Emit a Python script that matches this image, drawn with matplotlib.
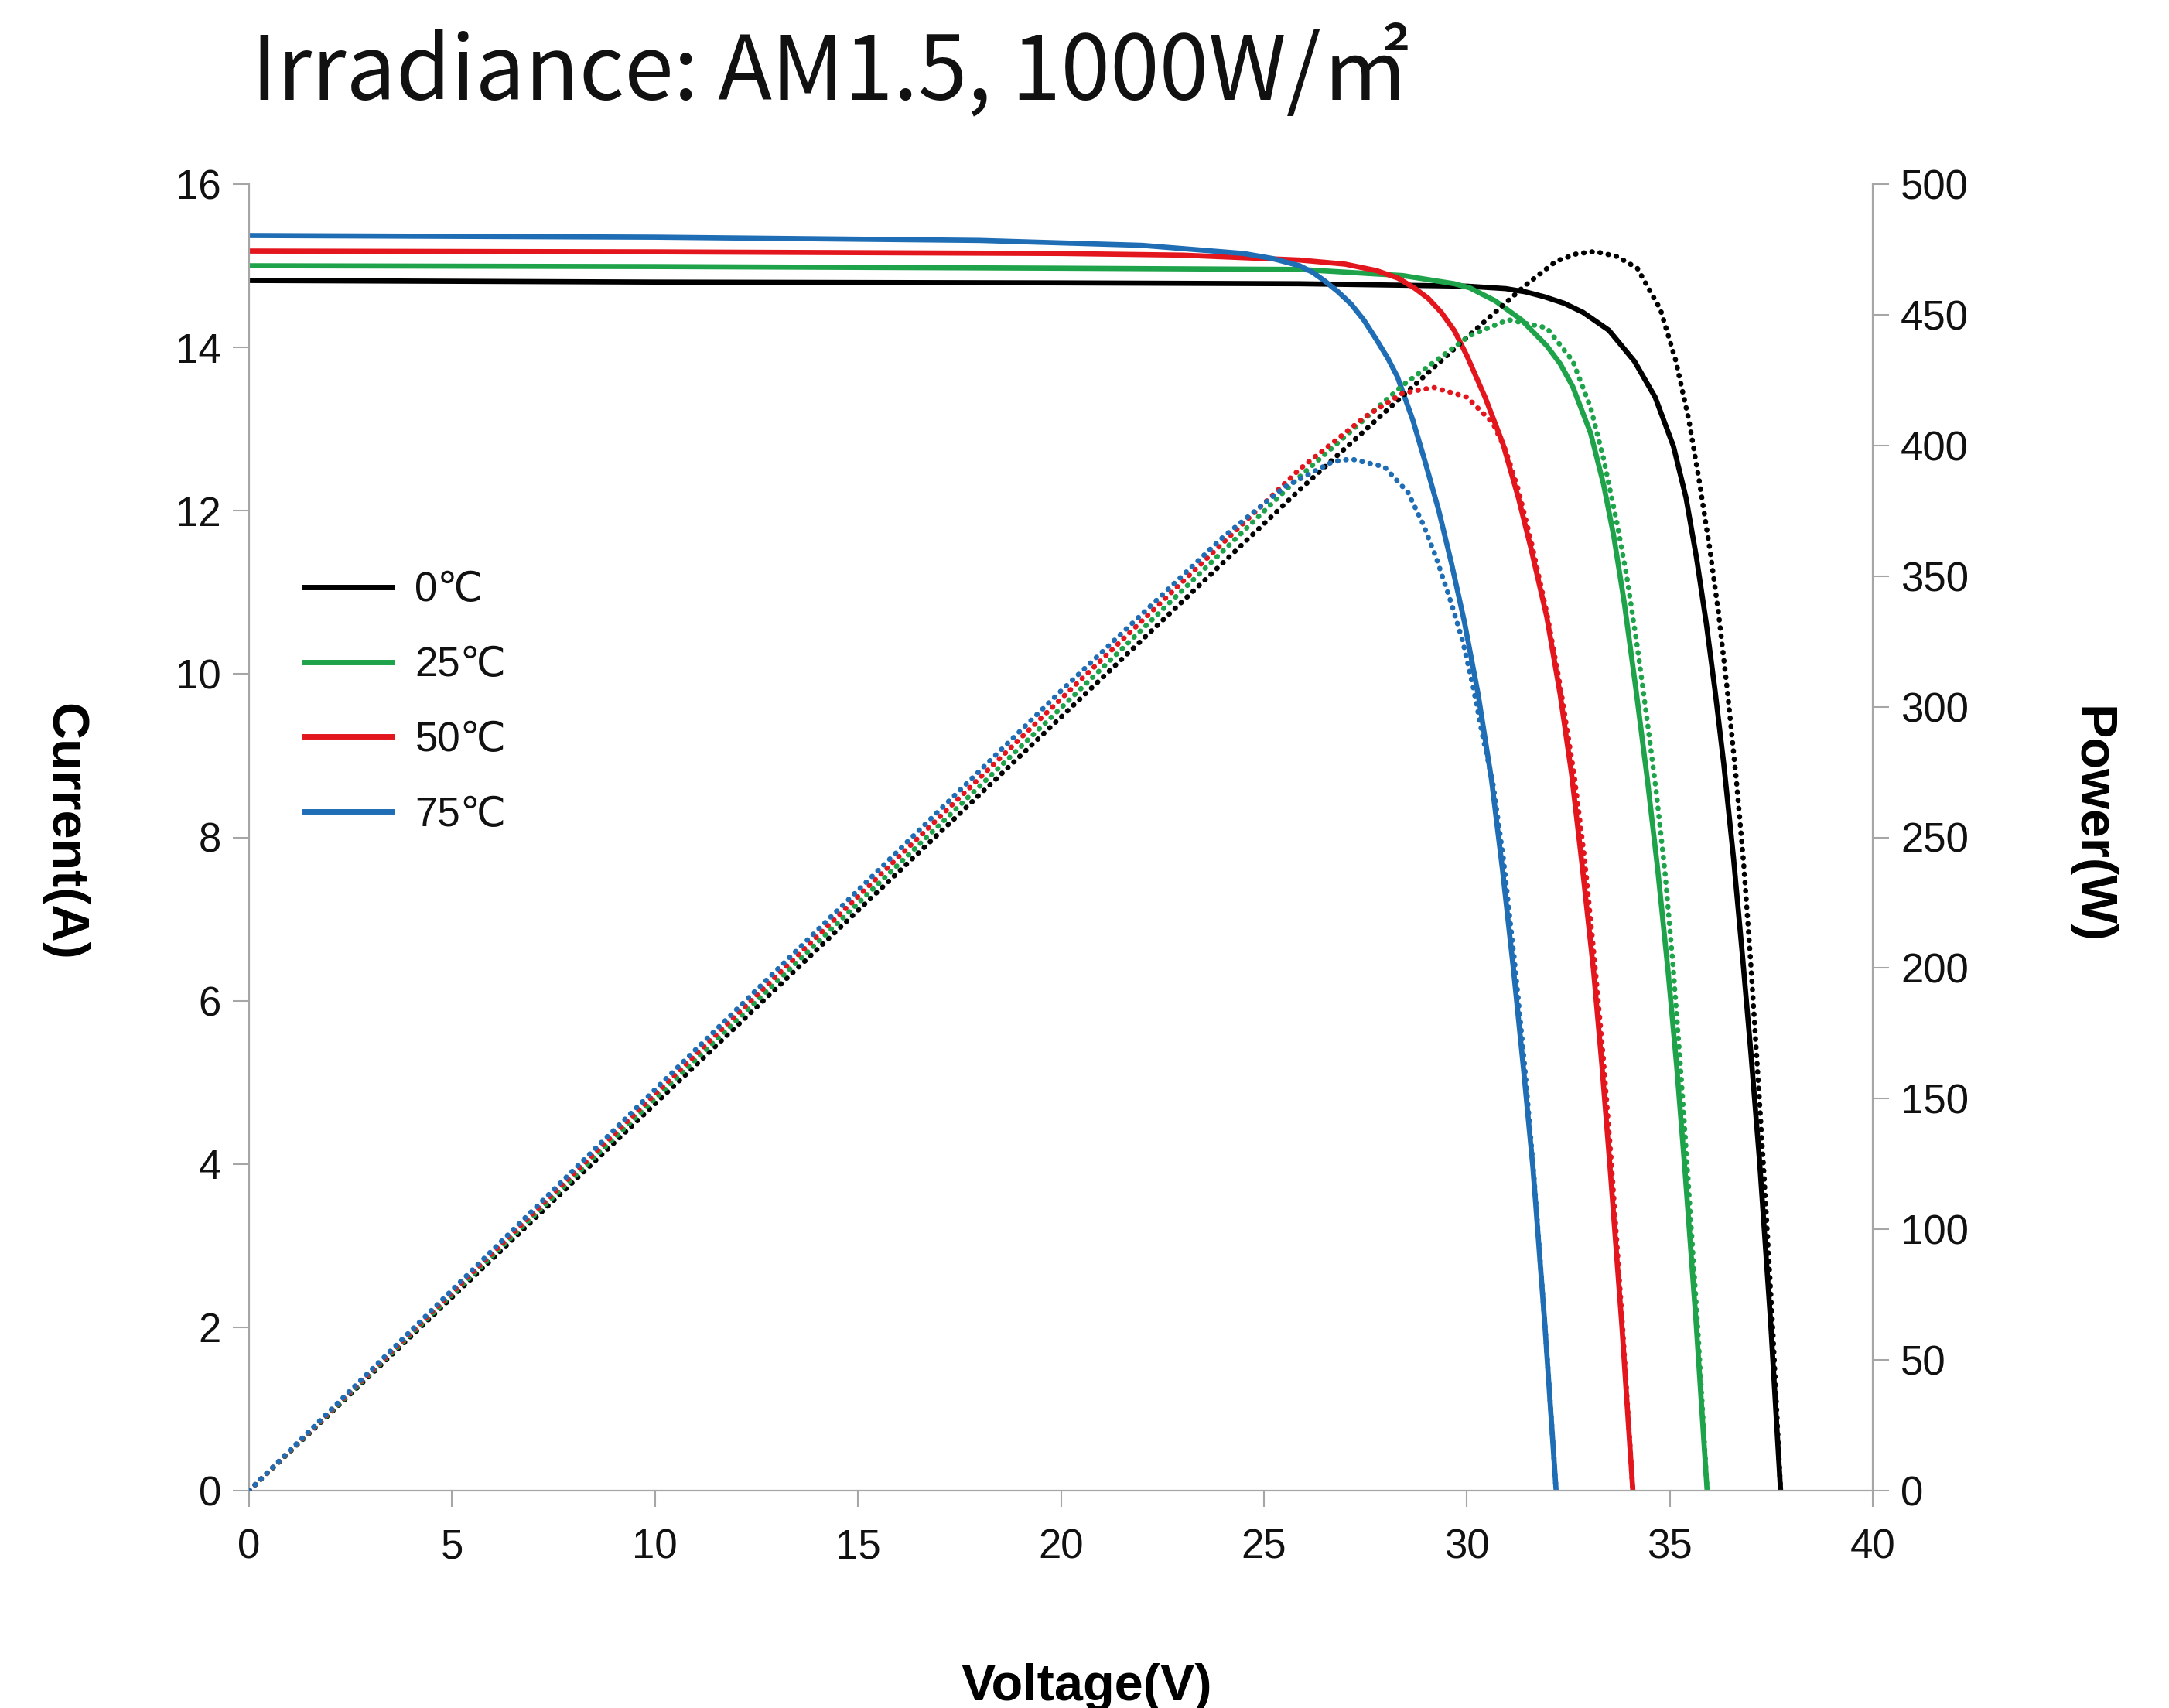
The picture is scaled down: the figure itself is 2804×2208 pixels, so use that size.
import matplotlib
matplotlib.use("Agg")
import matplotlib.pyplot as plt
from matplotlib.lines import Line2D

# ---------------- data ----------------
temps = ["0℃", "25℃", "50℃", "75℃"]
colors = ["#000000", "#1fa34a", "#e3161e", "#1f6db4"]

# I-V curves (Voltage V, Current A)
v_iv_0 = [0, 10, 20, 25.88, 30.0, 30.96, 31.45, 31.91, 32.4, 32.86, 33.5, 34.13, 34.64, 35.09, 35.4, 35.66, 35.9, 36.12, 36.33, 36.57, 36.8, 37.0, 37.21, 37.48, 37.73]
i_iv_0 = [14.82, 14.80, 14.79, 14.78, 14.75, 14.72, 14.68, 14.62, 14.54, 14.43, 14.21, 13.83, 13.39, 12.79, 12.16, 11.42, 10.62, 9.78, 8.9, 7.75, 6.5, 5.35, 4.05, 2.1, 0]

v_iv_25 = [0, 10, 20, 25.88, 28.42, 29.69, 30.07, 30.7, 31.34, 31.97, 32.3, 32.61, 33.05, 33.37, 33.62, 33.88, 34.17, 34.45, 34.7, 34.96, 35.17, 35.37, 35.65, 35.92]
i_iv_25 = [15.0, 14.99, 14.97, 14.955, 14.88, 14.78, 14.73, 14.57, 14.34, 14.02, 13.8, 13.52, 12.95, 12.32, 11.69, 10.87, 9.8, 8.7, 7.62, 6.35, 5.2, 3.95, 2.05, 0]

v_iv_50 = [0, 10, 20, 23, 25.88, 27.0, 27.78, 28.3, 28.73, 29.05, 29.37, 29.7, 30.0, 30.45, 30.89, 31.27, 31.59, 31.97, 32.3, 32.58, 32.85, 33.12, 33.33, 33.53, 33.82, 34.09]
i_iv_50 = [15.18, 15.17, 15.15, 15.13, 15.07, 15.02, 14.94, 14.85, 14.72, 14.6, 14.43, 14.2, 13.9, 13.39, 12.82, 12.16, 11.52, 10.7, 9.75, 8.78, 7.62, 6.38, 5.2, 3.95, 2.02, 0]

v_iv_75 = [0, 10, 18, 22, 24.5, 25.2, 25.88, 26.2, 26.51, 26.83, 27.15, 27.47, 27.78, 28.05, 28.29, 28.67, 28.99, 29.31, 29.62, 29.94, 30.28, 30.61, 30.88, 31.15, 31.4, 31.63, 31.92, 32.2]
i_iv_75 = [15.37, 15.35, 15.31, 15.25, 15.15, 15.09, 15.0, 14.92, 14.81, 14.68, 14.53, 14.33, 14.09, 13.87, 13.64, 13.11, 12.57, 12.0, 11.36, 10.64, 9.75, 8.7, 7.6, 6.38, 5.15, 3.95, 2.05, 0]

# P-V curves (Voltage V, Power W)
v_pv_0 = [0, 10, 20, 25.88, 30.07, 31.46, 32.2, 32.7, 33.15, 33.7, 34.2, 34.77, 35.15, 35.47, 35.72, 35.98, 36.2, 36.42, 36.64, 36.82, 36.99, 37.15, 37.31, 37.53, 37.73]
p_pv_0 = [0, 148, 296, 383, 442.3, 461.5, 470.5, 473.3, 474.2, 472.3, 467.8, 452, 432.3, 409.7, 387, 361, 336, 306, 272, 240, 203, 164, 124, 64, 0]

v_pv_25 = [0, 10, 20, 25.88, 28.42, 30.07, 31.02, 31.97, 32.61, 33.05, 33.37, 33.69, 33.94, 34.2, 34.45, 34.67, 34.88, 35.08, 35.26, 35.43, 35.69, 35.92]
p_pv_25 = [0, 150, 299.5, 388, 423, 442, 448.1, 445, 432.3, 414.5, 394.8, 371, 350, 323, 294, 267, 237, 201, 163, 124, 62, 0]

v_pv_50 = [0, 10, 20, 25.88, 27.5, 28.42, 29.18, 30.0, 30.64, 30.96, 31.27, 31.59, 31.97, 32.3, 32.64, 32.9, 33.14, 33.36, 33.56, 33.84, 34.09]
p_pv_50 = [0, 151.7, 303, 390.9, 411, 420, 422.2, 418.5, 408.6, 398, 383, 363, 336, 308, 274.4, 242, 204, 166, 126, 62, 0]

v_pv_75 = [0, 10, 20, 24.0, 25.5, 26.7, 27.15, 27.97, 28.55, 28.92, 29.24, 29.62, 29.9, 30.15, 30.4, 30.64, 30.9, 31.2, 31.44, 31.66, 31.95, 32.2]
p_pv_75 = [0, 153.5, 306, 365, 384, 393.8, 394.8, 391.8, 382, 370, 357.3, 339.5, 325, 308, 288, 271, 242, 199, 160, 119, 58, 0]

x_ticks = [0, 5, 10, 15, 20, 25, 30, 35, 40]
i_ticks = [0, 2, 4, 6, 8, 10, 12, 14, 16]
p_ticks = [0, 50, 100, 150, 200, 250, 300, 350, 400, 450, 500]

title = "Irradiance: AM1.5, 1000W/㎡"
xlabel = "Voltage(V)"
ylabel_left = "Current(A)"
ylabel_right = "Power(W)"

iv_curves = [(v_iv_0, i_iv_0), (v_iv_25, i_iv_25), (v_iv_50, i_iv_50), (v_iv_75, i_iv_75)]
pv_curves = [(v_pv_0, p_pv_0), (v_pv_25, p_pv_25), (v_pv_50, p_pv_50), (v_pv_75, p_pv_75)]

# ---------------- figure ----------------
W, H, DPI = 2804, 2208, 100
fig = plt.figure(figsize=(W / DPI, H / DPI), dpi=DPI)
fig.patch.set_facecolor("white")

tick_font = ["Liberation Sans", "DejaVu Sans"]
grey = "#a6a6a6"

ax = fig.add_axes([322 / W, 1 - 1927 / H, (2421 - 322) / W, (1927 - 238) / H])
ax2 = ax.twinx()

for (v, i), c in zip(iv_curves, colors):
    ax.plot(v, i, color=c, lw=4.8, solid_joinstyle="round", solid_capstyle="butt", zorder=2)

for (v, p), c in zip(pv_curves, colors):
    ax2.plot(v, p, color=c, lw=4.8, linestyle=(0, (0.1, 1.5)),
             dash_capstyle="round", zorder=3)

ax.set_xlim(0, 40)
ax.set_ylim(0, 16)
ax2.set_ylim(0, 500)
ax.set_xticks(x_ticks)
ax.set_yticks(i_ticks)
ax2.set_yticks(p_ticks)

for a in (ax, ax2):
    a.spines["top"].set_visible(False)
    for s in ("left", "right", "bottom"):
        a.spines[s].set_color(grey)
        a.spines[s].set_linewidth(1.6)
    a.patch.set_alpha(0)
ax.spines["right"].set_visible(False)
ax2.spines["left"].set_visible(False)
ax2.spines["bottom"].set_visible(False)

ax.tick_params(axis="both", direction="out", length=15, width=1.5, color=grey,
               labelsize=38, labelcolor="#111111")
ax.tick_params(axis="y", pad=11)
ax.tick_params(axis="x", pad=20)
ax2.tick_params(axis="y", direction="out", length=15, width=1.5, color=grey,
                labelsize=38, labelcolor="#111111", pad=11)
for lab in ax.get_xticklabels() + ax.get_yticklabels() + ax2.get_yticklabels():
    lab.set_family(tick_font)

# legend
handles = [Line2D([], [], color=c, lw=5.0) for c in colors]
leg = ax.legend(handles, temps, loc="upper left",
                bbox_to_anchor=((394 - 322) / (2421 - 322), (1927 - 738) / (1927 - 238)),
                frameon=False, borderpad=0, borderaxespad=0,
                handlelength=2.15, handletextpad=0.55, labelspacing=0.89,
                prop={"family": tick_font, "size": 38})
for t in leg.get_texts():
    t.set_color("#111111")

# texts
fig.text(325 / W, 1 - 128 / H, title, ha="left", va="baseline",
         fontsize=82.5, family=["Noto Sans CJK SC", "DejaVu Sans"], color="#111111")
fig.text(1405 / W, 1 - 2150 / H, xlabel, ha="center", va="top",
         fontsize=48, fontweight="bold", family=tick_font)
fig.text(82 / W, 1 - 1075 / H, ylabel_left, ha="center", va="center",
         rotation=-90, fontsize=48, fontweight="bold", family=tick_font)
fig.text(2702 / W, 1 - 1067 / H, ylabel_right, ha="center", va="center",
         rotation=-90, fontsize=48, fontweight="bold", family=tick_font)

fig.savefig("out.png", dpi=DPI, facecolor="white")
